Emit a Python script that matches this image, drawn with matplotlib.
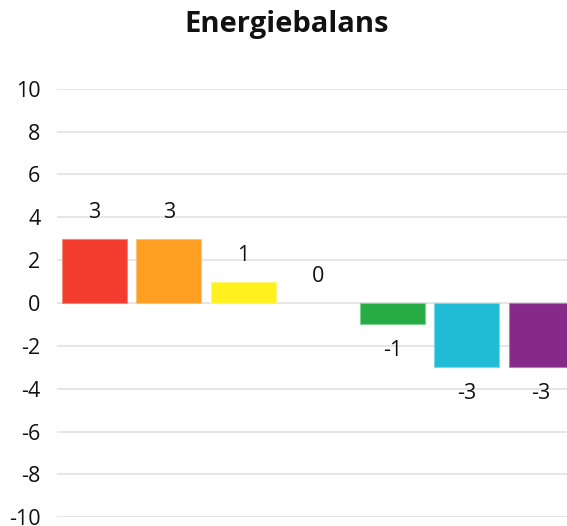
import matplotlib
matplotlib.use("Agg")
import matplotlib.pyplot as plt

categories = ["A", "B", "C", "D", "E", "F", "G"]
values = [3, 3, 1, 0, -1, -3, -3]
colors = ["#f23c2e", "#ff9f22", "#fff01e", "#3b7dd8", "#26ab45", "#20bbd5", "#862a8a"]
edge_colors = ["#f8847a", "#ffc27a", "#fff57a", "none", "#7fd08f", "#7fd6e6", "#b57ab8"]
yticks = list(range(-10, 11, 2))
title = "Energiebalans"

plt.rcParams["font.family"] = ["Open Sans", "DejaVu Sans"]

fig = plt.figure(figsize=(5.67, 5.26), dpi=100)
ax = fig.add_axes([57 / 567, 8.7 / 526, (578.5 - 57) / 567, (437.3 - 8.7) / 526])

x = list(range(len(categories)))
bars = ax.bar(x, values, width=0.87, color=colors, linewidth=0.8, zorder=3)
for b, ec in zip(bars, edge_colors):
    b.set_edgecolor(ec)

for xi, v in zip(x, values):
    off = 19 if v >= 0 else -19
    ax.annotate(str(v), (xi, v), xytext=(0, off), textcoords="offset points",
                ha="center", va="center", fontsize=15.5, color="#111111")

ax.set_xlim(-0.5, len(categories) - 0.5)
ax.set_ylim(-10, 10)
ax.set_yticks(yticks)
ax.set_yticklabels([str(t) for t in yticks], fontsize=15.5, color="#111111")
ax.set_xticks([])
ax.grid(axis="y", color="#e2e2e2", linewidth=1.2, zorder=0)
ax.tick_params(axis="y", length=0, pad=12)
for s in ax.spines.values():
    s.set_visible(False)

fig.text(0.505, 0.953, title, ha="center", va="center", fontsize=21, fontweight="bold", color="#111111")

fig.savefig("out.png", dpi=100)
